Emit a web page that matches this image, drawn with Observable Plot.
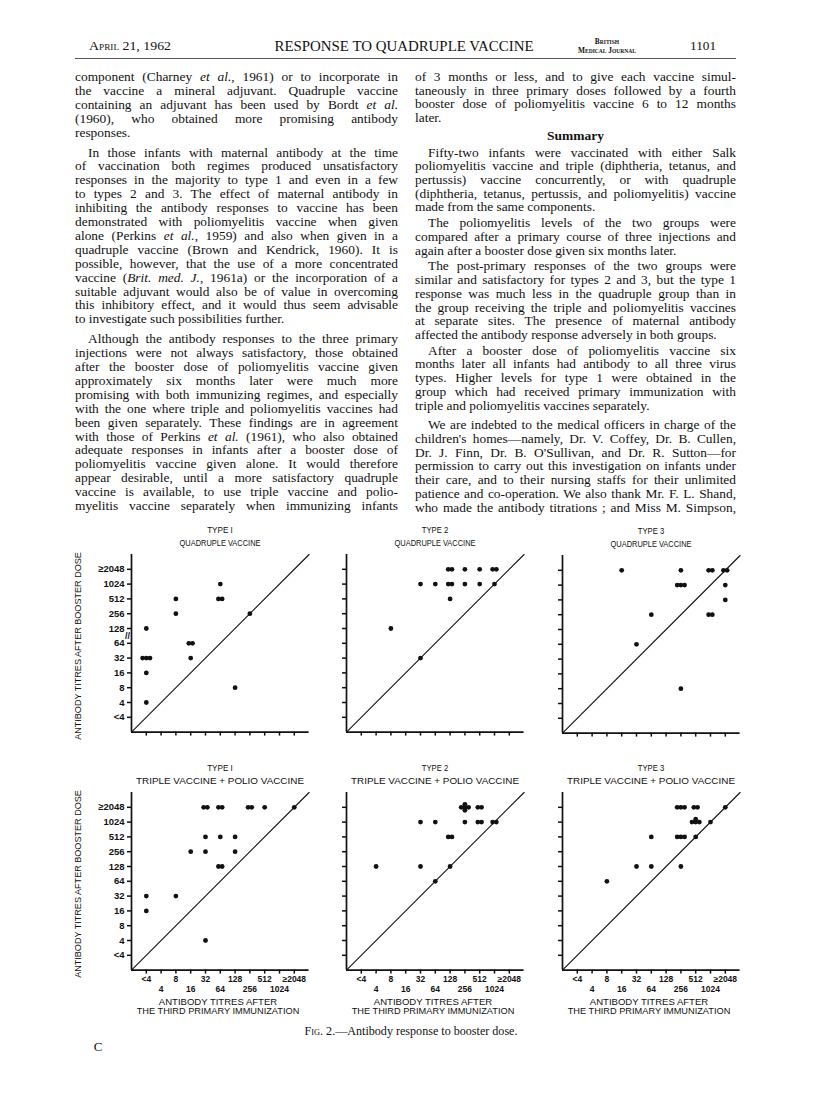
<!DOCTYPE html>
<html>
<head>
<meta charset="utf-8">
<script src="https://cdn.jsdelivr.net/npm/d3@7"></script>
<script src="https://cdn.jsdelivr.net/npm/@observablehq/plot@0.6"></script>
<style>
  html, body { margin: 0; padding: 0; background: #ffffff; }
  #page { position: relative; width: 816px; height: 1108px; overflow: hidden; background: #ffffff; color: #111;
          font-family: "Liberation Serif", "DejaVu Serif", serif; }
  .ln { position: absolute; white-space: nowrap; font-size: 13.4px; line-height: 14px; height: 14px; }
  .sans { font-family: "Liberation Sans", "DejaVu Sans", sans-serif; }
  .panel { position: absolute; }
  .panel svg { overflow: visible; }
  .panel svg g[aria-label="x-axis tick"], .panel svg g[aria-label="y-axis tick"] { stroke-width: 1.5px; }
</style>
</head>
<body>
<div id="page"></div>
<script>
// ---------------- data ----------------
const levels = ["<4", "4", "8", "16", "32", "64", "128", "256", "512", "1024", "≥2048"];

// [titre after 3rd primary immunization, titre after booster dose, number of infants]
const type1Quadruple = [
  ["<4", "128", 1], ["<4", "32", 3], ["<4", "16", 1], ["<4", "4", 1],
  ["8", "512", 1], ["8", "256", 1], ["16", "64", 2], ["16", "32", 1],
  ["64", "1024", 1], ["64", "512", 2], ["128", "8", 1], ["256", "256", 1]
];
const type2Quadruple = [
  ["8", "128", 1], ["32", "32", 1], ["32", "1024", 1], ["64", "1024", 1],
  ["128", "1024", 2], ["128", "512", 1], ["128", "≥2048", 2], ["256", "≥2048", 1],
  ["256", "1024", 1], ["512", "≥2048", 1], ["512", "1024", 1], ["1024", "≥2048", 2],
  ["1024", "1024", 1]
];
const type3Quadruple = [
  ["16", "≥2048", 1], ["32", "64", 1], ["64", "256", 1], ["256", "≥2048", 1],
  ["256", "1024", 3], ["256", "8", 1], ["1024", "≥2048", 2], ["1024", "256", 2],
  ["≥2048", "≥2048", 2], ["≥2048", "1024", 1], ["≥2048", "512", 1]
];
const type1Triple = [
  ["<4", "32", 1], ["<4", "16", 1], ["8", "32", 1], ["16", "256", 1],
  ["32", "≥2048", 2], ["32", "512", 1], ["32", "256", 1], ["32", "4", 1],
  ["64", "≥2048", 2], ["64", "512", 1], ["64", "128", 2], ["128", "512", 1],
  ["128", "256", 1], ["256", "≥2048", 2], ["512", "≥2048", 1], ["≥2048", "≥2048", 1]
];
const type2Triple = [
  ["4", "128", 1], ["32", "1024", 1], ["32", "128", 1], ["64", "1024", 1],
  ["64", "64", 1], ["128", "512", 2], ["128", "128", 1], ["256", "≥2048", 5],
  ["256", "1024", 1], ["512", "≥2048", 2], ["512", "1024", 2], ["1024", "1024", 2]
];
const type3Triple = [
  ["8", "64", 1], ["32", "128", 1], ["64", "512", 1], ["64", "128", 1],
  ["256", "≥2048", 3], ["256", "512", 3], ["256", "128", 1], ["512", "≥2048", 2],
  ["512", "1024", 4], ["512", "512", 1], ["1024", "1024", 1], ["≥2048", "≥2048", 1]
];

const typeLabels = ["TYPE I", "TYPE 2", "TYPE 3"];
const quadrupleLabel = "QUADRUPLE VACCINE";
const tripleLabel = "TRIPLE VACCINE + POLIO VACCINE";
const yTitle = "ANTIBODY TITRES AFTER BOOSTER DOSE";
const xTitle1 = "ANTIBODY TITRES AFTER";
const xTitle2 = "THE THIRD PRIMARY IMMUNIZATION";
const caption = '<span style="font-variant:small-caps">Fig.</span> 2.—Antibody response to booster dose.';

// ---------------- text of the page ----------------
const leftColumn = [
  {indent: false, lines: [
    "component (Charney <i>et al.</i>, 1961) or to incorporate in",
    "the vaccine a mineral adjuvant. Quadruple vaccine",
    "containing an adjuvant has been used by Bordt <i>et al.</i>",
    "(1960), who obtained more promising antibody",
    "responses."]},
  {indent: true, lines: [
    "In those infants with maternal antibody at the time",
    "of vaccination both regimes produced unsatisfactory",
    "responses in the majority to type 1 and even in a few",
    "to types 2 and 3. The effect of maternal antibody in",
    "inhibiting the antibody responses to vaccine has been",
    "demonstrated with poliomyelitis vaccine when given",
    "alone (Perkins <i>et al.</i>, 1959) and also when given in a",
    "quadruple vaccine (Brown and Kendrick, 1960). It is",
    "possible, however, that the use of a more concentrated",
    "vaccine (<i>Brit. med. J.</i>, 1961a) or the incorporation of a",
    "suitable adjuvant would also be of value in overcoming",
    "this inhibitory effect, and it would thus seem advisable",
    "to investigate such possibilities further."]},
  {indent: true, cont: true, lines: [
    "Although the antibody responses to the three primary",
    "injections were not always satisfactory, those obtained",
    "after the booster dose of poliomyelitis vaccine given",
    "approximately six months later were much more",
    "promising with both immunizing regimes, and especially",
    "with the one where triple and poliomyelitis vaccines had",
    "been given separately. These findings are in agreement",
    "with those of Perkins <i>et al.</i> (1961), who also obtained",
    "adequate responses in infants after a booster dose of",
    "poliomyelitis vaccine given alone. It would therefore",
    "appear desirable, until a more satisfactory quadruple",
    "vaccine is available, to use triple vaccine and polio-",
    "myelitis vaccine separately when immunizing infants"]}
];
const rightColumn = [
  {indent: false, lines: [
    "of 3 months or less, and to give each vaccine simul-",
    "taneously in three primary doses followed by a fourth",
    "booster dose of poliomyelitis vaccine 6 to 12 months",
    "later."]},
  {heading: "Summary"},
  {indent: true, lines: [
    "Fifty-two infants were vaccinated with either Salk",
    "poliomyelitis vaccine and triple (diphtheria, tetanus, and",
    "pertussis) vaccine concurrently, or with quadruple",
    "(diphtheria, tetanus, pertussis, and poliomyelitis) vaccine",
    "made from the same components."]},
  {indent: true, lines: [
    "The poliomyelitis levels of the two groups were",
    "compared after a primary course of three injections and",
    "again after a booster dose given six months later."]},
  {indent: true, lines: [
    "The post-primary responses of the two groups were",
    "similar and satisfactory for types 2 and 3, but the type 1",
    "response was much less in the quadruple group than in",
    "the group receiving the triple and poliomyelitis vaccines",
    "at separate sites. The presence of maternal antibody",
    "affected the antibody response adversely in both groups."]},
  {indent: true, lines: [
    "After a booster dose of poliomyelitis vaccine six",
    "months later all infants had antibody to all three virus",
    "types. Higher levels for type 1 were obtained in the",
    "group which had received primary immunization with",
    "triple and poliomyelitis vaccines separately."]},
  {indent: true, cont: true, extra: 4, lines: [
    "We are indebted to the medical officers in charge of the",
    "children's homes—namely, Dr. V. Coffey, Dr. B. Cullen,",
    "Dr. J. Finn, Dr. B. O'Sullivan, and Dr. R. Sutton—for",
    "permission to carry out this investigation on infants under",
    "their care, and to their nursing staffs for their unlimited",
    "patience and co-operation. We also thank Mr. F. L. Shand,",
    "who made the antibody titrations ; and Miss M. Simpson,"]}
];

// ---------------- helpers ----------------
const page = document.getElementById("page");

function label(html, cx, cy, width, style, rotate) {
  const el = document.createElement("div");
  el.innerHTML = html;
  el.style.cssText = `position:absolute;left:${cx}px;top:${cy}px;white-space:nowrap;line-height:1;${style || ""}`;
  page.appendChild(el);
  const w = el.getBoundingClientRect().width;
  const s = width ? width / w : 1;
  el.style.transform = `translate(-50%,-50%)${rotate ? " rotate(-90deg)" : ""} scaleX(${s})`;
  return el;
}

function justifyLine(html, x, y, width, indent, justify) {
  const d = document.createElement("div");
  d.className = "ln";
  d.style.left = (x + indent) + "px";
  d.style.top = (y - 7) + "px";
  const s = document.createElement("span");
  s.innerHTML = html;
  d.appendChild(s);
  page.appendChild(d);
  const avail = width - indent;
  const w = s.getBoundingClientRect().width;
  const n = (s.textContent.match(/ /g) || []).length;
  if (w > avail) {
    // too long: squeeze the letters slightly so the line keeps its width
    const chars = s.textContent.length;
    s.style.letterSpacing = ((avail - w) / chars) + "px";
  } else if (justify && n > 0) {
    s.style.wordSpacing = ((avail - w) / n) + "px";
  }
}

function layoutColumn(col, x, y0, width, lh, gap) {
  let y = y0;
  col.forEach((p, pi) => {
    if (p.heading) {
      y += 4;
      label(p.heading, x + width / 2, y, null, "font-size:13.5px;font-weight:bold;");
      y += lh + 3;
      return;
    }
    if (pi > 0 && !col[pi - 1].heading) y += gap + (p.extra || 0);
    p.lines.forEach((l, i) => {
      const last = i === p.lines.length - 1 && !(p.cont);
      justifyLine(l, x, y, width, (i === 0 && p.indent) ? 13 : 0, !last);
      y += lh;
    });
  });
}

// ---------------- header ----------------
label('<span style="font-variant:small-caps">April</span> 21, 1962', 130, 46, 82, "font-size:13.5px;");
label("RESPONSE TO QUADRUPLE VACCINE", 404, 46, 259, "font-size:14.5px;");
label('<div style="font-variant:small-caps;font-size:8px;line-height:8.5px;text-align:center;font-weight:bold">British<br>Medical Journal</div>', 607, 46, 58, "");
label("1101", 703, 46, 26, "font-size:13.5px;");
const rule = document.createElement("div");
rule.style.cssText = "position:absolute;left:75px;top:58px;width:661px;height:1.3px;background:#555;";
page.appendChild(rule);

// ---------------- text columns ----------------
layoutColumn(leftColumn, 75, 77, 323, 13.9, 6);
layoutColumn(rightColumn, 415, 77, 321, 13.72, 2);

// ---------------- figure ----------------
const origin = -1;
const topEnd = levels.length;            // 11
const diagEnds = [origin, topEnd];
const stepPx = 14.8;
const inner = stepPx * (topEnd - origin);
const mL = 50, mR = 10, mT = 6, mB = 40;
const tickIdx = d3.range(levels.length);

function spread(n) {
  const h = 0.25;
  if (n === 1) return [[0, 0]];
  if (n === 2) return [[-h / 2, 0], [h / 2, 0]];
  if (n === 3) return [[-h, 0], [0, 0], [h, 0]];
  if (n === 4) return [[-h, 0], [0, 0], [h, 0], [0, h * 0.8]];
  return [[-h, 0], [0, 0], [h, 0], [0, h * 0.8], [0, -h * 0.8]];
}
function expand(rows) {
  const out = [];
  for (const [xl, yl, n] of rows) {
    const xi = levels.indexOf(xl), yi = levels.indexOf(yl);
    for (const [dx, dy] of spread(n)) out.push({x: xi + dx, y: yi + dy});
  }
  return out;
}

const panels = [
  {rows: type1Quadruple, type: typeLabels[0], vaccine: quadrupleLabel, vw: 79, cx: 131, cy: 732, yLab: true, xLab: false, brk: true},
  {rows: type2Quadruple, type: typeLabels[1], vaccine: quadrupleLabel, vw: 79, cx: 346, cy: 732, yLab: false, xLab: false},
  {rows: type3Quadruple, type: typeLabels[2], vaccine: quadrupleLabel, vw: 79, cx: 562, cy: 733, yLab: false, xLab: false},
  {rows: type1Triple, type: typeLabels[0], vaccine: tripleLabel, vw: 163, cx: 131, cy: 970, yLab: true, xLab: true},
  {rows: type2Triple, type: typeLabels[1], vaccine: tripleLabel, vw: 163, cx: 346, cy: 970, yLab: false, xLab: true},
  {rows: type3Triple, type: typeLabels[2], vaccine: tripleLabel, vw: 163, cx: 562, cy: 970, yLab: false, xLab: true}
];

const axisFont = {fontSize: 9.5, fontWeight: "bold", label: null};

panels.forEach(p => {
  const marks = [
    Plot.ruleX([origin], {strokeWidth: 1.7, stroke: "#111"}),
    Plot.ruleY([origin], {strokeWidth: 1.7, stroke: "#111"}),
    Plot.line(diagEnds, {x: d => d, y: d => d, strokeWidth: 1.1, stroke: "#111"}),
    Plot.axisY({ticks: tickIdx, tickSize: 4, tickPadding: 3, tickFormat: p.yLab ? (i => levels[i]) : (() => ""), ...axisFont}),
    Plot.axisX({ticks: tickIdx, tickSize: 4, tickFormat: () => "", label: null})
  ];
  if (p.xLab) {
    marks.push(Plot.axisX({ticks: tickIdx.filter(i => i % 2 === 0), tickSize: 0, tickPadding: 6, tickFormat: i => levels[i], fontSize: 8.5, fontWeight: "bold", label: null}));
    marks.push(Plot.axisX({ticks: tickIdx.filter(i => i % 2 === 1), tickSize: 0, tickPadding: 16, tickFormat: i => levels[i], fontSize: 8.5, fontWeight: "bold", label: null}));
  }
  if (p.brk) marks.push(Plot.text(["//"], {x: origin, y: levels.indexOf("128") - 0.5, dx: -4, text: d => d, fontSize: 9, fontWeight: "bold"}));
  marks.push(Plot.dot(expand(p.rows), {x: "x", y: "y", r: 2.4, fill: "#111"}));

  const svg = Plot.plot({
    width: mL + inner + mR,
    height: mT + inner + mB,
    marginLeft: mL, marginRight: mR, marginTop: mT, marginBottom: mB,
    x: {type: "linear", domain: [origin, topEnd], axis: null},
    y: {type: "linear", domain: [origin, topEnd], axis: null},
    style: {background: "transparent", fontFamily: "'Liberation Sans', 'DejaVu Sans', sans-serif", color: "#111"},
    marks
  });
  const wrap = document.createElement("div");
  wrap.className = "panel";
  wrap.style.left = (p.cx - mL) + "px";
  wrap.style.top = (p.cy - inner - mT) + "px";
  wrap.appendChild(svg);
  page.appendChild(wrap);

  const centerX = p.cx + stepPx * (levels.length / 2 + 0.5);
  const axisTop = p.cy - inner;
  label(p.type, centerX, axisTop - 24, 25, "font-size:9px;", false).classList.add("sans");
  label(p.vaccine, centerX, axisTop - 11, p.vw, "font-size:9px;", false).classList.add("sans");
  if (p.yLab) label(yTitle, 78, p.cy - inner / 2 + 3, 180, "font-size:9.5px;", true).classList.add("sans");
  if (p.xLab) {
    label(xTitle1, centerX - 2, 1002, 116, "font-size:9.5px;").classList.add("sans");
    label(xTitle2, centerX - 2, 1011, 163, "font-size:9.5px;").classList.add("sans");
  }
});

label(caption, 411, 1030, 213, "font-size:13px;");
label("C", 98, 1046, null, "font-size:13px;");
</script>
</body>
</html>
